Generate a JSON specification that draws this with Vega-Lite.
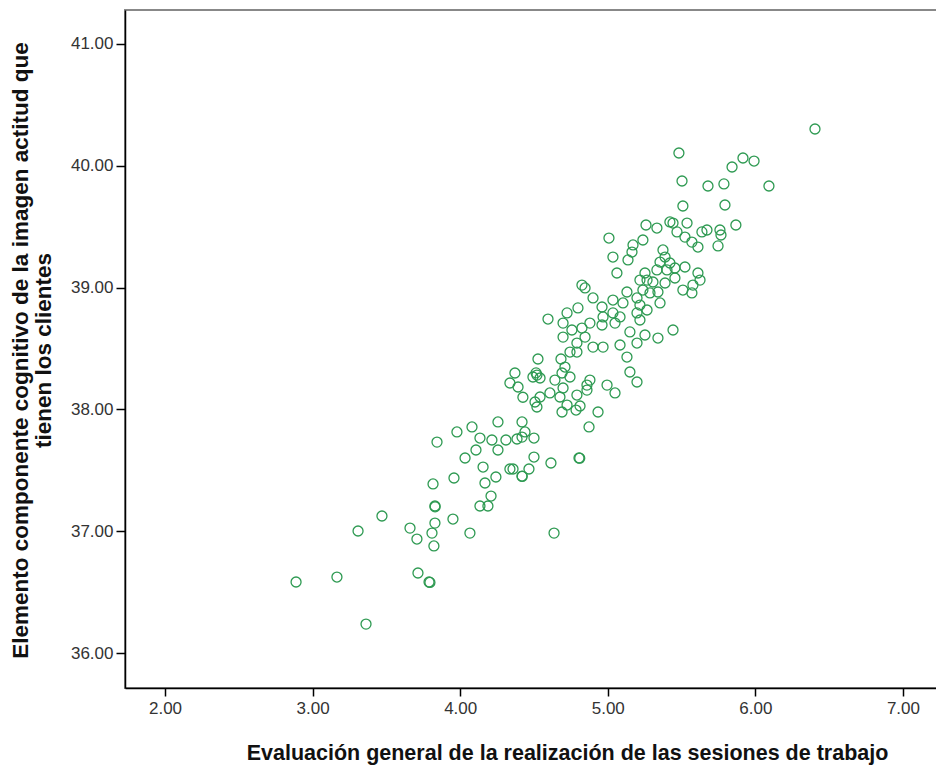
{
  "$schema": "https://vega.github.io/schema/vega-lite/v6.json",
  "width": 815,
  "height": 678,
  "autosize": {"type": "none"},
  "padding": {"left": 125, "top": 10, "right": 0, "bottom": 83},
  "background": "white",
  "config": {
    "view": {"stroke": "#888888", "strokeWidth": 2},
    "font": "Liberation Sans"
  },
  "data": {
    "values": [
      {"ev": 2.888, "cog": 36.583}, {"ev": 3.165, "cog": 36.624}, {"ev": 3.308, "cog": 37.002}, {"ev": 3.470, "cog": 37.125},
      {"ev": 3.362, "cog": 36.238}, {"ev": 3.660, "cog": 37.026}, {"ev": 3.707, "cog": 36.936}, {"ev": 3.714, "cog": 36.657},
      {"ev": 3.789, "cog": 36.583}, {"ev": 3.795, "cog": 36.580}, {"ev": 3.816, "cog": 37.388}, {"ev": 3.829, "cog": 37.207},
      {"ev": 3.830, "cog": 37.200}, {"ev": 3.829, "cog": 37.067}, {"ev": 3.809, "cog": 36.985}, {"ev": 3.822, "cog": 36.879},
      {"ev": 3.951, "cog": 37.100}, {"ev": 3.958, "cog": 37.437},
      {"ev": 4.256, "cog": 37.897}, {"ev": 4.080, "cog": 37.856}, {"ev": 3.978, "cog": 37.815}, {"ev": 3.843, "cog": 37.732},
      {"ev": 4.134, "cog": 37.765}, {"ev": 4.215, "cog": 37.749}, {"ev": 4.107, "cog": 37.667}, {"ev": 4.256, "cog": 37.667},
      {"ev": 4.033, "cog": 37.601}, {"ev": 4.155, "cog": 37.527}, {"ev": 4.242, "cog": 37.445}, {"ev": 4.168, "cog": 37.396},
      {"ev": 4.209, "cog": 37.289}, {"ev": 4.134, "cog": 37.207}, {"ev": 4.188, "cog": 37.207}, {"ev": 4.066, "cog": 36.985},
      {"ev": 4.310, "cog": 37.749}, {"ev": 4.385, "cog": 37.757}, {"ev": 4.419, "cog": 37.773}, {"ev": 4.500, "cog": 37.765},
      {"ev": 4.439, "cog": 37.815}, {"ev": 4.337, "cog": 37.511}, {"ev": 4.358, "cog": 37.511}, {"ev": 4.419, "cog": 37.453},
      {"ev": 4.420, "cog": 37.450}, {"ev": 4.466, "cog": 37.511}, {"ev": 4.500, "cog": 37.609}, {"ev": 4.615, "cog": 37.560},
      {"ev": 4.805, "cog": 37.601}, {"ev": 4.810, "cog": 37.600}, {"ev": 4.636, "cog": 36.985}, {"ev": 4.873, "cog": 37.856},
      {"ev": 4.595, "cog": 38.742}, {"ev": 4.527, "cog": 38.414}, {"ev": 4.371, "cog": 38.299}, {"ev": 4.337, "cog": 38.217},
      {"ev": 4.392, "cog": 38.184}, {"ev": 4.425, "cog": 38.100}, {"ev": 4.520, "cog": 38.282}, {"ev": 4.541, "cog": 38.258},
      {"ev": 4.493, "cog": 38.266}, {"ev": 4.514, "cog": 38.300}, {"ev": 4.642, "cog": 38.241}, {"ev": 4.608, "cog": 38.135},
      {"ev": 4.541, "cog": 38.102}, {"ev": 4.507, "cog": 38.061}, {"ev": 4.520, "cog": 38.020}, {"ev": 4.419, "cog": 37.897},
      {"ev": 4.683, "cog": 38.414}, {"ev": 4.710, "cog": 38.348}, {"ev": 4.690, "cog": 38.299}, {"ev": 4.744, "cog": 38.266},
      {"ev": 4.879, "cog": 38.241}, {"ev": 4.859, "cog": 38.200}, {"ev": 4.697, "cog": 38.176}, {"ev": 4.676, "cog": 38.102},
      {"ev": 4.791, "cog": 38.118}, {"ev": 4.859, "cog": 38.159}, {"ev": 4.995, "cog": 38.200}, {"ev": 5.049, "cog": 38.135},
      {"ev": 4.724, "cog": 38.036}, {"ev": 4.812, "cog": 38.028}, {"ev": 4.785, "cog": 37.995}, {"ev": 4.690, "cog": 37.979},
      {"ev": 4.934, "cog": 37.979}, {"ev": 5.150, "cog": 38.307}, {"ev": 5.198, "cog": 38.225},
      {"ev": 5.259, "cog": 39.514}, {"ev": 5.333, "cog": 39.489}, {"ev": 5.421, "cog": 39.539}, {"ev": 5.442, "cog": 39.530},
      {"ev": 5.537, "cog": 39.530}, {"ev": 5.469, "cog": 39.457}, {"ev": 5.523, "cog": 39.415}, {"ev": 5.570, "cog": 39.374},
      {"ev": 5.638, "cog": 39.457}, {"ev": 5.672, "cog": 39.473}, {"ev": 5.611, "cog": 39.333}, {"ev": 5.008, "cog": 39.407},
      {"ev": 5.171, "cog": 39.350}, {"ev": 5.238, "cog": 39.391}, {"ev": 5.164, "cog": 39.292}, {"ev": 5.137, "cog": 39.227},
      {"ev": 5.035, "cog": 39.251}, {"ev": 5.374, "cog": 39.309}, {"ev": 5.388, "cog": 39.251}, {"ev": 5.354, "cog": 39.210},
      {"ev": 5.421, "cog": 39.202}, {"ev": 5.455, "cog": 39.161}, {"ev": 5.401, "cog": 39.145}, {"ev": 5.333, "cog": 39.145},
      {"ev": 5.523, "cog": 39.169}, {"ev": 5.062, "cog": 39.120}, {"ev": 5.252, "cog": 39.120}, {"ev": 5.218, "cog": 39.062},
      {"ev": 5.266, "cog": 39.062}, {"ev": 5.306, "cog": 39.046}, {"ev": 5.388, "cog": 39.038}, {"ev": 5.455, "cog": 39.079},
      {"ev": 5.611, "cog": 39.120}, {"ev": 5.625, "cog": 39.062}, {"ev": 5.577, "cog": 39.021}, {"ev": 5.509, "cog": 38.980},
      {"ev": 5.570, "cog": 38.956}, {"ev": 4.825, "cog": 39.021}, {"ev": 4.846, "cog": 38.997}, {"ev": 4.900, "cog": 38.915},
      {"ev": 5.035, "cog": 38.898}, {"ev": 5.130, "cog": 38.964}, {"ev": 5.198, "cog": 38.915}, {"ev": 5.238, "cog": 38.980},
      {"ev": 5.286, "cog": 38.956}, {"ev": 5.340, "cog": 38.964}, {"ev": 5.218, "cog": 38.857}, {"ev": 5.266, "cog": 38.816},
      {"ev": 5.354, "cog": 38.874}, {"ev": 5.103, "cog": 38.874}, {"ev": 4.961, "cog": 38.841}, {"ev": 4.798, "cog": 38.833},
      {"ev": 4.724, "cog": 38.792}, {"ev": 4.968, "cog": 38.759}, {"ev": 5.035, "cog": 38.792}, {"ev": 5.049, "cog": 38.709},
      {"ev": 5.083, "cog": 38.759}, {"ev": 4.961, "cog": 38.693}, {"ev": 4.879, "cog": 38.709}, {"ev": 4.825, "cog": 38.668},
      {"ev": 4.757, "cog": 38.652}, {"ev": 4.697, "cog": 38.709}, {"ev": 4.697, "cog": 38.594}, {"ev": 4.846, "cog": 38.594},
      {"ev": 5.218, "cog": 38.734}, {"ev": 5.150, "cog": 38.636}, {"ev": 5.252, "cog": 38.611}, {"ev": 5.340, "cog": 38.586},
      {"ev": 5.442, "cog": 38.652}, {"ev": 5.198, "cog": 38.545}, {"ev": 5.083, "cog": 38.529}, {"ev": 4.900, "cog": 38.512},
      {"ev": 4.968, "cog": 38.512}, {"ev": 4.791, "cog": 38.471}, {"ev": 5.130, "cog": 38.430}, {"ev": 4.791, "cog": 38.545},
      {"ev": 4.744, "cog": 38.471}, {"ev": 5.198, "cog": 38.792},
      {"ev": 6.404, "cog": 40.302}, {"ev": 5.482, "cog": 40.105}, {"ev": 5.916, "cog": 40.064}, {"ev": 5.991, "cog": 40.039},
      {"ev": 5.842, "cog": 39.990}, {"ev": 5.503, "cog": 39.875}, {"ev": 5.679, "cog": 39.834}, {"ev": 5.787, "cog": 39.851},
      {"ev": 6.092, "cog": 39.834}, {"ev": 5.509, "cog": 39.670}, {"ev": 5.794, "cog": 39.678}, {"ev": 5.868, "cog": 39.514},
      {"ev": 5.760, "cog": 39.473}, {"ev": 5.767, "cog": 39.432}, {"ev": 5.747, "cog": 39.342}
    ]
  },
  "mark": {"type": "point", "filled": false, "shape": "circle", "size": 100, "strokeWidth": 1.3, "color": "#2e9a52", "opacity": 1},
  "encoding": {
    "x": {
      "field": "ev", "type": "quantitative",
      "scale": {"domain": [1.729, 7.251], "nice": false, "zero": false},
      "axis": {
        "title": "Evaluación general de la realización de las sesiones de trabajo",
        "values": [2, 3, 4, 5, 6, 7], "format": ".2f", "grid": false,
        "domainColor": "#000000", "domainWidth": 1.5, "tickColor": "#000000", "tickWidth": 1.5, "tickSize": 8,
        "labelFont": "Liberation Sans", "labelFontSize": 17, "labelColor": "#333333", "labelPadding": 4,
        "titleFont": "Liberation Sans", "titleFontSize": 21.5, "titleFontWeight": "bold", "titleColor": "#111111",
        "titleX": 442, "titleY": 71, "titleAnchor": null, "titleAlign": "center", "titleBaseline": "alphabetic"
      }
    },
    "y": {
      "field": "cog", "type": "quantitative",
      "scale": {"domain": [35.713, 41.279], "nice": false, "zero": false},
      "axis": {
        "title": ["Elemento componente cognitivo de la imagen actitud que", "tienen los clientes"],
        "values": [36, 37, 38, 39, 40, 41], "format": ".2f", "grid": false,
        "domainColor": "#000000", "domainWidth": 1.5, "tickColor": "#000000", "tickWidth": 1.5, "tickSize": 9,
        "labelFont": "Liberation Sans", "labelFontSize": 17, "labelColor": "#333333", "labelPadding": 3,
        "titleFont": "Liberation Sans", "titleFontSize": 22.5, "titleFontWeight": "bold", "titleColor": "#111111",
        "titleLineHeight": 23, "titleX": -116, "titleY": 340, "titleAngle": -90, "titleAlign": "center", "titleBaseline": "top"
      }
    }
  }
}
